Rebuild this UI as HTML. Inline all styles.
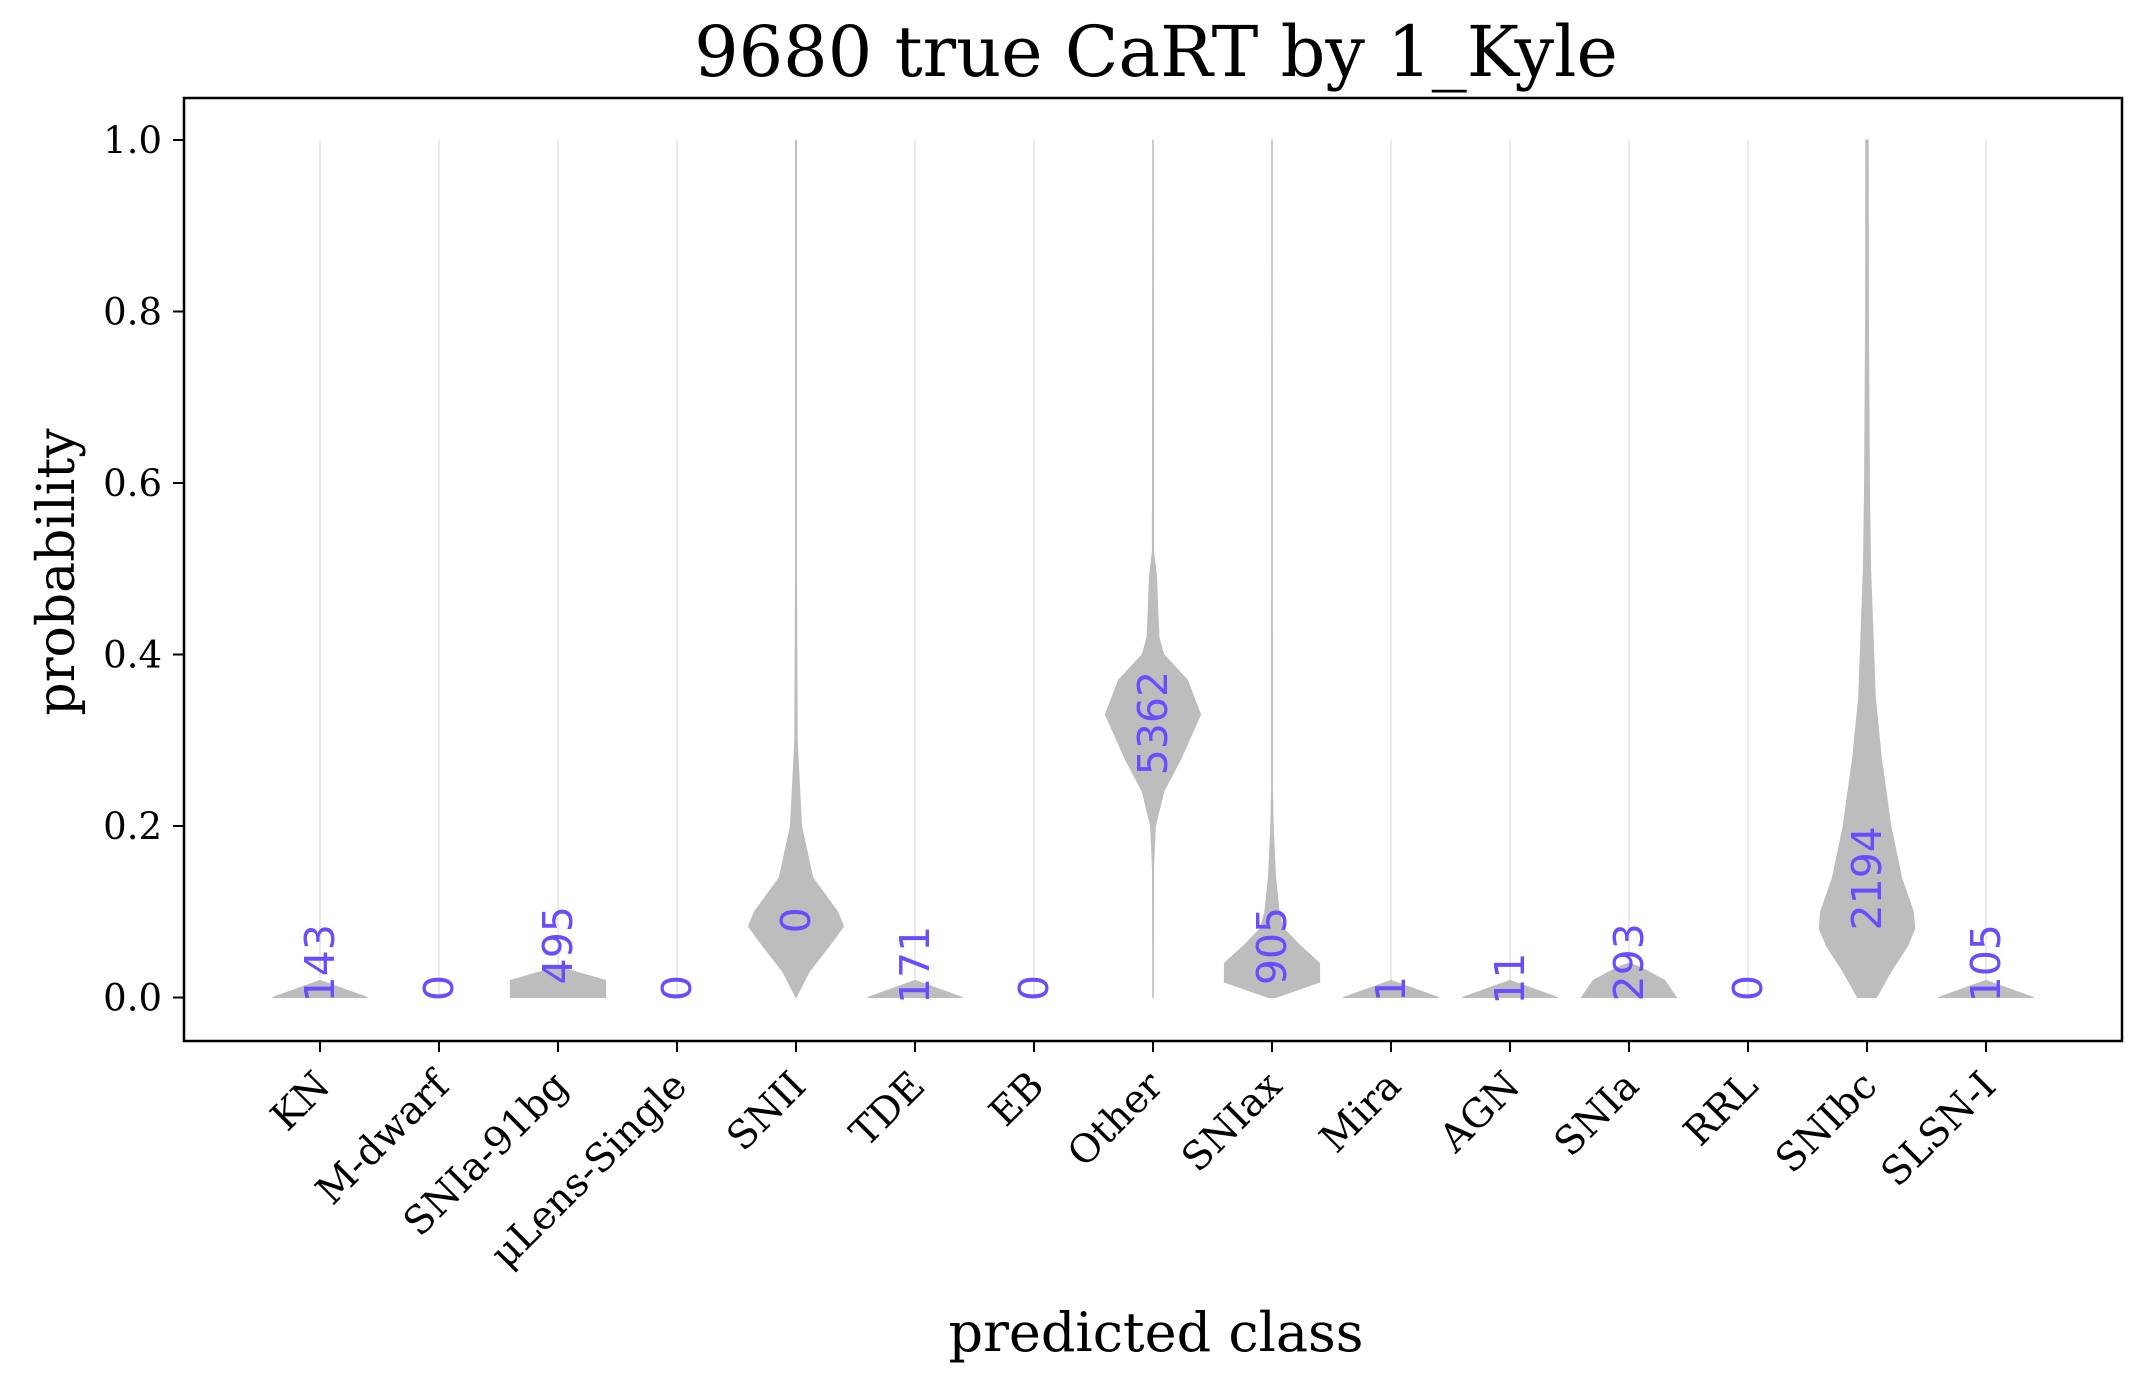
<!DOCTYPE html>
<html><head><meta charset="utf-8"><style>
html,body{margin:0;padding:0;background:#fff;}
svg{display:block;font-family:"DejaVu Serif","Liberation Serif",serif;}
</style></head><body>
<svg id="chart" width="2150" height="1386" viewBox="0 0 2150 1386" xmlns="http://www.w3.org/2000/svg">
<rect width="2150" height="1386" fill="#fff"/>
<text x="1156" y="76" font-size="70" text-anchor="middle">9680 true CaRT by 1_Kyle</text>
<text transform="translate(74,572) rotate(-90)" font-size="52" text-anchor="middle">probability</text>
<text x="1156" y="1351" font-size="54" text-anchor="middle">predicted class</text>
<g id="plot"></g>
<rect x="184" y="98" width="1938" height="943" fill="none" stroke="#000" stroke-width="2.5"/>
</svg>
<script>
const categories = ["KN","M-dwarf","SNIa-91bg","μLens-Single","SNII","TDE","EB","Other","SNIax","Mira","AGN","SNIa","RRL","SNIbc","SLSN-I"];
const counts = ["143","0","495","0","0","171","0","5362","905","1","11","293","0","2194","105"];
const labelY = [0.04,0.011,0.061,0.011,0.09,0.038,0.011,0.32,0.06,0.01,0.022,0.041,0.011,0.139,0.04];
const yTicks = [0.0,0.2,0.4,0.6,0.8,1.0];
// violin profiles: [y, halfwidth in category units]
const profKN = [[0,0.4],[0.02,0]];
const profMdwarf = [];
const prof91bg = [[0,0.4],[0.02,0.4],[0.036,0]];
const profLens = [];
const profSNII = [[0,0],[0.03,0.11],[0.06,0.28],[0.083,0.4],[0.1,0.35],[0.14,0.14],[0.2,0.046],[0.3,0.01],[0.5,0.004],[1.0,0.003]];
const profTDE = [[0,0.4],[0.02,0]];
const profEB = [];
const profOther = [[0,0.002],[0.15,0.004],[0.2,0.02],[0.24,0.09],[0.28,0.24],[0.33,0.4],[0.37,0.29],[0.4,0.09],[0.42,0.05],[0.45,0.04],[0.49,0.03],[0.52,0.005],[1.0,0.002]];
const profSNIax = [[0,0.03],[0.018,0.4],[0.04,0.4],[0.06,0.24],[0.08,0.1],[0.1,0.06],[0.14,0.03],[0.2,0.01],[0.25,0.003],[1.0,0.002]];
const profMira = [[0,0.4],[0.02,0]];
const profAGN = [[0,0.4],[0.02,0]];
const profSNIa = [[0,0.4],[0.02,0.3],[0.035,0.1],[0.04,0]];
const profRRL = [];
const profSNIbc = [[0,0.08],[0.03,0.2],[0.06,0.34],[0.08,0.4],[0.1,0.39],[0.14,0.29],[0.2,0.2],[0.28,0.12],[0.35,0.07],[0.5,0.03],[0.6,0.02],[0.8,0.012],[1.0,0.01]];
const profSLSN = [[0,0.4],[0.02,0]];
const profiles = [profKN,profMdwarf,prof91bg,profLens,profSNII,profTDE,profEB,profOther,profSNIax,profMira,profAGN,profSNIa,profRRL,profSNIbc,profSLSN];

const NS="http://www.w3.org/2000/svg";
const g=document.getElementById('plot');
const X0=320, DX=119, Y0=997.5, YS=857.5;
const xs=i=>X0+DX*i;
const ys=v=>Y0-v*YS;
function mk(t,a){const e=document.createElementNS(NS,t);for(const k in a)e.setAttribute(k,a[k]);g.appendChild(e);return e;}

yTicks.forEach(t=>{
  const l=mk('line',{x1:184,x2:173,y1:ys(t),y2:ys(t),stroke:'#000','stroke-width':2});
  
  
  const tx=mk('text',{x:162,y:ys(t)+13,'font-size':37,'text-anchor':'end'});
  tx.textContent=t.toFixed(1);
  
  
});

categories.forEach((c,i)=>{
  const x=xs(i);
  const ln=mk('line',{x1:x,x2:x,y1:ys(0),y2:ys(1),stroke:'#e3e3e3','stroke-width':1.5});
  
  
  const p=profiles[i];
  if(p.length){
    let pts=p.map(([v,w])=>[x+w*DX,ys(v)]);
    let left=p.slice().reverse().map(([v,w])=>[x-w*DX,ys(v)]);
    const d='M'+pts.concat(left).map(q=>q[0].toFixed(1)+','+q[1].toFixed(1)).join('L')+'Z';
    const vp=mk('path',{d:d,fill:'#bdbdbd',stroke:'#bdbdbd','stroke-width':1});
    
    
  }
  const tk=mk('line',{x1:x,x2:x,y1:1041,y2:1052,stroke:'#000','stroke-width':2});
  
  
  const lb=mk('text',{transform:`translate(${x+12},${1088}) rotate(-45)`,'font-size':39,'text-anchor':'end'});
  lb.textContent=c;
  
  
  const ct=mk('text',{transform:`translate(${x+14},${ys(labelY[i])}) rotate(-90)`,'font-size':41,'text-anchor':'middle',fill:'#6a4cff','font-family':'"DejaVu Sans","Liberation Sans",sans-serif'});
  ct.textContent=counts[i];
  
  
});
</script>
</body></html>
